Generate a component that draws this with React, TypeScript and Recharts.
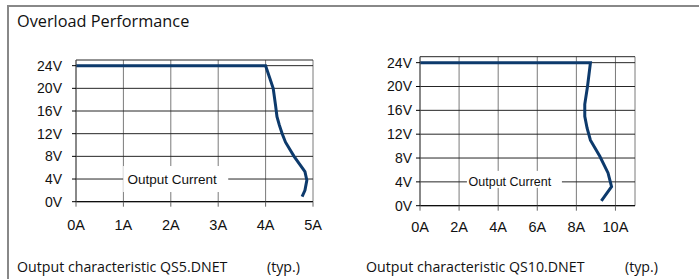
import { LineChart, Line, XAxis, YAxis, CartesianGrid, ReferenceDot } from 'recharts'

// QS5.DNET output characteristic (current in A, voltage in V)
const qs5Current = [0, 4.0, 4.08, 4.16, 4.21, 4.24, 4.29, 4.35, 4.42, 4.6, 4.83, 4.87, 4.83, 4.77]
const qs5Voltage = [24, 24, 22, 20, 17, 15, 13.5, 12, 10.5, 8, 5.3, 3.8, 2, 0.9]

// QS10.DNET output characteristic
const qs10Current = [0, 8.72, 8.57, 8.43, 8.43, 8.55, 8.72, 9.2, 9.62, 9.8, 9.28]
const qs10Voltage = [24, 24, 20, 17, 15, 13, 11, 8.3, 5.5, 3.2, 0.8]

const voltTicks = [0, 4, 8, 12, 16, 20, 24]
const qs5AmpTicks = [0, 1, 2, 3, 4, 5]
const qs10AmpTicks = [0, 2, 4, 6, 8, 10]

const axisLabel = 'Output Current'
const labelVolt = 4
const qs5LabelAmp = 2.03
const qs10LabelAmp = 4.6

const title = 'Overload Performance'
const qs5Caption = 'Output characteristic QS5.DNET'
const qs10Caption = 'Output characteristic QS10.DNET'
const typ = '(typ.)'

const toRows = (xs: number[], ys: number[]) => xs.map((a, i) => ({ a, v: ys[i] }))

const FONT = '"Liberation Sans", Arial, sans-serif'
const CAPTION_FONT = '"Open Sans", "Noto Sans", sans-serif'
const LINE_COLOR = '#0d3a6c'

function labelShape(left: number, right: number, top: number, bottom: number, size: number) {
  return (props: any) => {
    const { cx, cy } = props
    return (
      <g>
        <rect x={cx - left} y={cy - top} width={left + right} height={top + bottom} fill="#fff" />
        <text x={cx} y={cy + size * 0.36} textAnchor="middle" fontSize={size} fontFamily={FONT} fill="#111">
          {axisLabel}
        </text>
      </g>
    )
  }
}

interface PanelProps {
  current: number[]
  voltage: number[]
  ampTicks: number[]
  ampMax: number
  labelAmp: number
  margin: { top: number; right: number; bottom: number; left: number }
  width: number
  yTickMargin: number
  xTickMargin: number
  shape: (p: any) => any
}

function Panel({ current, voltage, ampTicks, ampMax, labelAmp, margin, width, yTickMargin, xTickMargin, shape }: PanelProps) {
  return (
    <LineChart width={width} height={245} data={toRows(current, voltage)} margin={margin}>
      <CartesianGrid horizontal={false} stroke="#7a7a7a" strokeWidth={1} />
      <CartesianGrid vertical={false} stroke="#262626" strokeWidth={1} />
      <XAxis
        dataKey="a"
        type="number"
        domain={[0, ampMax]}
        ticks={ampTicks}
        tickFormatter={(v) => `${v}A`}
        height={30}
        tickSize={5}
        tickMargin={xTickMargin}
        axisLine={{ stroke: '#000' }}
        tickLine={{ stroke: '#666' }}
        tick={{ fill: '#111', fontSize: 14.5, fontFamily: FONT }}
        interval={0}
      />
      <YAxis
        dataKey="v"
        type="number"
        domain={[0, 25]}
        ticks={voltTicks}
        tickFormatter={(v) => `${v}V`}
        width={40}
        tickSize={4}
        tickMargin={yTickMargin}
        axisLine={{ stroke: '#555' }}
        tickLine={{ stroke: '#000' }}
        tick={{ fill: '#111', fontSize: 14, fontFamily: FONT }}
        interval={0}
      />
      <ReferenceDot x={labelAmp} y={labelVolt} r={1} shape={shape} />
      <Line
        type="linear"
        dataKey="v"
        stroke={LINE_COLOR}
        strokeWidth={3}
        dot={false}
        isAnimationActive={false}
      />
    </LineChart>
  )
}

export default function App() {
  return (
    <div style={{ position: 'relative', width: 699, height: 279, background: '#fff', overflow: 'hidden' }}>
      <style>{`body{margin:0}`}</style>
      <svg width={699} height={279} style={{ position: 'absolute', left: 0, top: 0 }}>
        <rect x={7} y={5} width={692} height={2} fill="#888" />
        <rect x={7} y={5} width={2} height={274} fill="#888" />
        <text x={17} y={27} fontSize={16.3} fontFamily={CAPTION_FONT} fill="#111">{title}</text>
        <text x={17} y={272} fontSize={14.2} fontFamily={CAPTION_FONT} fill="#111">{qs5Caption}</text>
        <text x={267} y={272} fontSize={14.2} fontFamily={CAPTION_FONT} fill="#111">{typ}</text>
        <text x={366} y={272} fontSize={14.2} fontFamily={CAPTION_FONT} fill="#111">{qs10Caption}</text>
        <text x={625} y={272} fontSize={14.2} fontFamily={CAPTION_FONT} fill="#111">{typ}</text>
      </svg>
      <div style={{ position: 'absolute', left: 0, top: 0 }}>
        <Panel
          current={qs5Current}
          voltage={qs5Voltage}
          ampTicks={qs5AmpTicks}
          ampMax={5}
          labelAmp={qs5LabelAmp}
          width={340}
          margin={{ top: 60, right: 27, bottom: 13.3, left: 36 }}
          yTickMargin={10}
          xTickMargin={13}
          shape={labelShape(49, 56, 13, 13, 13.5)}
        />
      </div>
      <div style={{ position: 'absolute', left: 340, top: 0 }}>
        <Panel
          current={qs10Current}
          voltage={qs10Voltage}
          ampTicks={qs10AmpTicks}
          ampMax={11}
          labelAmp={qs10LabelAmp}
          width={359}
          margin={{ top: 56.7, right: 64, bottom: 9.3, left: 40 }}
          yTickMargin={4}
          xTickMargin={11}
          shape={labelShape(43, 52, 11, 6, 12.5)}
        />
      </div>
    </div>
  )
}
